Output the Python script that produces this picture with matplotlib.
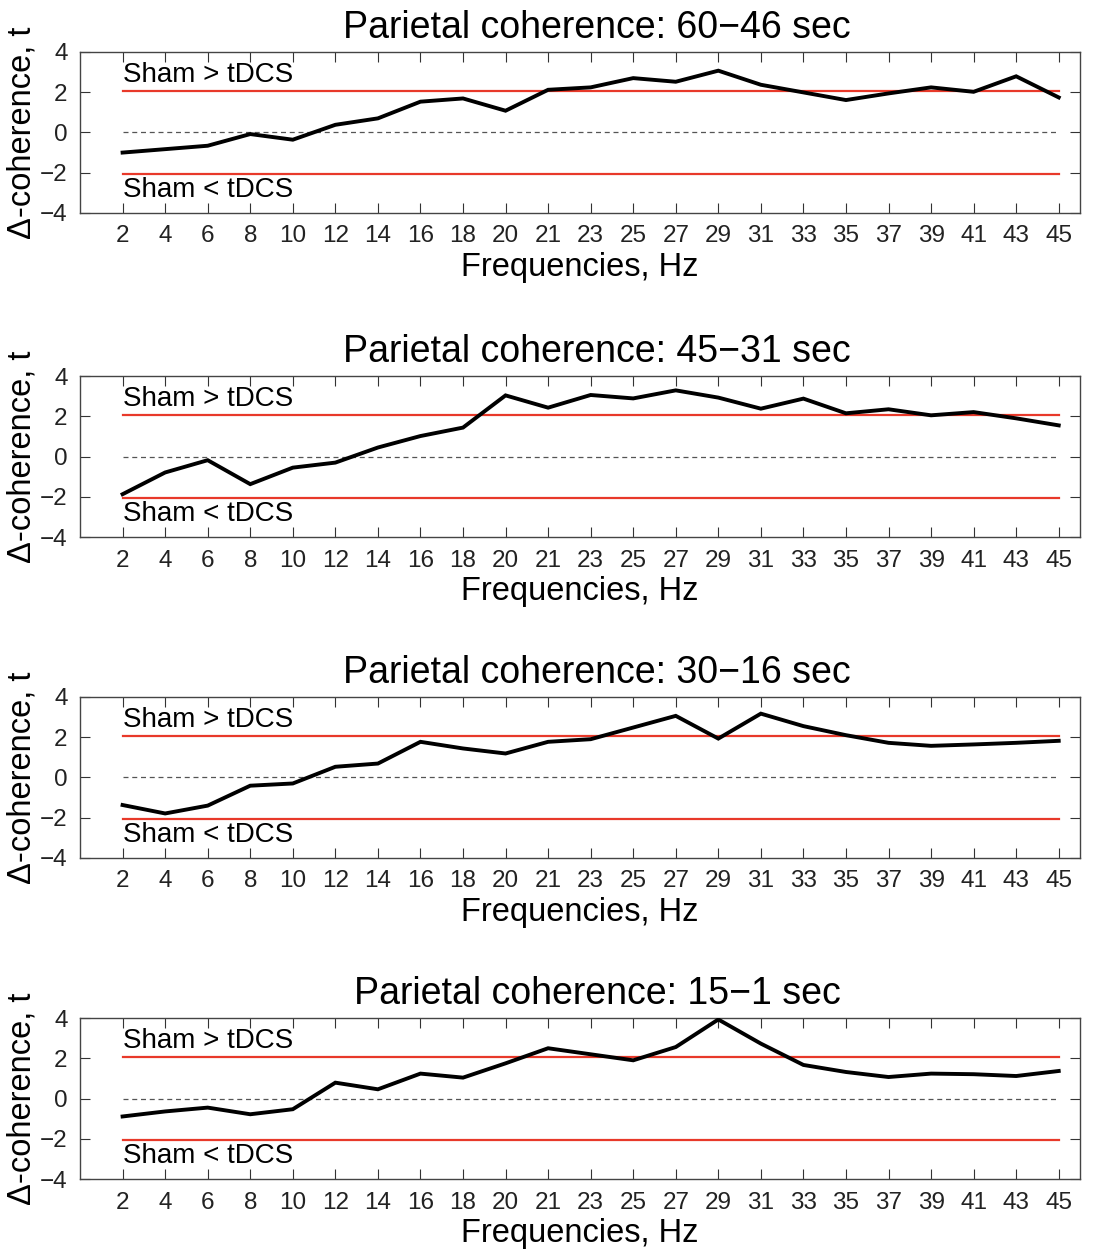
import matplotlib
matplotlib.use("Agg")
import matplotlib.pyplot as plt
import numpy as np

plt.rcParams['font.family'] = ['Liberation Sans', 'DejaVu Sans']

# --- data ---
freq_labels = ['2', '4', '6', '8', '10', '12', '14', '16', '18', '20', '21', '23',
               '25', '27', '29', '31', '33', '35', '37', '39', '41', '43', '45']

titles = ['Parietal coherence: 60\u221246 sec',
          'Parietal coherence: 45\u221231 sec',
          'Parietal coherence: 30\u221216 sec',
          'Parietal coherence: 15\u22121 sec']

t_60_46 = [-1.00, -0.83, -0.66, -0.08, -0.36, 0.38, 0.70, 1.53, 1.69, 1.08, 2.12, 2.24,
           2.70, 2.52, 3.07, 2.37, 1.99, 1.61, 1.94, 2.24, 2.02, 2.79, 1.74]
t_45_31 = [-1.87, -0.79, -0.18, -1.37, -0.55, -0.30, 0.45, 1.02, 1.44, 3.04, 2.43, 3.06,
           2.89, 3.29, 2.93, 2.38, 2.88, 2.15, 2.35, 2.05, 2.21, 1.90, 1.55]
t_30_16 = [-1.37, -1.79, -1.40, -0.41, -0.30, 0.53, 0.69, 1.77, 1.44, 1.19, 1.77, 1.90,
           2.48, 3.06, 1.93, 3.17, 2.55, 2.10, 1.72, 1.57, 1.64, 1.72, 1.82]
t_15_1 = [-0.89, -0.64, -0.45, -0.78, -0.53, 0.79, 0.46, 1.24, 1.04, 1.75, 2.50, 2.20,
          1.90, 2.56, 3.93, 2.73, 1.67, 1.32, 1.07, 1.24, 1.21, 1.12, 1.37]

series = [t_60_46, t_45_31, t_30_16, t_15_1]
t_crit = 2.07

# --- figure ---
fig = plt.figure(figsize=(10.98, 12.49), dpi=100)
bottoms = [0.8295, 0.570, 0.3131, 0.056]
x = np.arange(1, len(freq_labels) + 1)

for title, vals, b in zip(titles, series, bottoms):
    ax = fig.add_axes([0.0729, b, 0.9107, 0.1289])
    ax.plot(x, vals, color='black', lw=2.8, solid_joinstyle='miter', zorder=3)
    ax.axhline(t_crit, xmin=1 / 23.5, xmax=23 / 23.5, color='#e8392a', lw=1.6, zorder=2)
    ax.axhline(-t_crit, xmin=1 / 23.5, xmax=23 / 23.5, color='#e8392a', lw=1.6, zorder=2)
    ax.axhline(0, xmin=1 / 23.5, xmax=23 / 23.5, color='#555555', lw=0.9,
               ls=(0, (4, 3)), zorder=1)
    ax.text(1, t_crit + 0.15, 'Sham > tDCS', fontsize=20, ha='left', va='bottom')
    ax.text(1, -t_crit - 0.15, 'Sham < tDCS', fontsize=20, ha='left', va='top')

    ax.set_xlim(0, 23.5)
    ax.set_ylim(-4, 4)
    ax.set_xticks(x)
    ax.set_xticklabels(freq_labels)
    ax.set_yticks([-4, -2, 0, 2, 4])
    ax.set_yticklabels(['\u22124', '\u22122', '0', '2', '4'])
    ax.tick_params(direction='in', top=True, right=True, length=7, width=0.8,
                   labelsize=17.5, colors='#333333', labelcolor='#222222', pad=9)
    for s in ax.spines.values():
        s.set_color('#444444')
        s.set_linewidth(1.0)

    ax.set_title(title, fontsize=27, x=0.517, pad=10)
    ax.set_xlabel('Frequencies, Hz', fontsize=23.5, labelpad=3)
    ax.set_ylabel('\u0394-coherence, t', fontsize=23.5, labelpad=2)

fig.savefig('out.png', dpi=100)
